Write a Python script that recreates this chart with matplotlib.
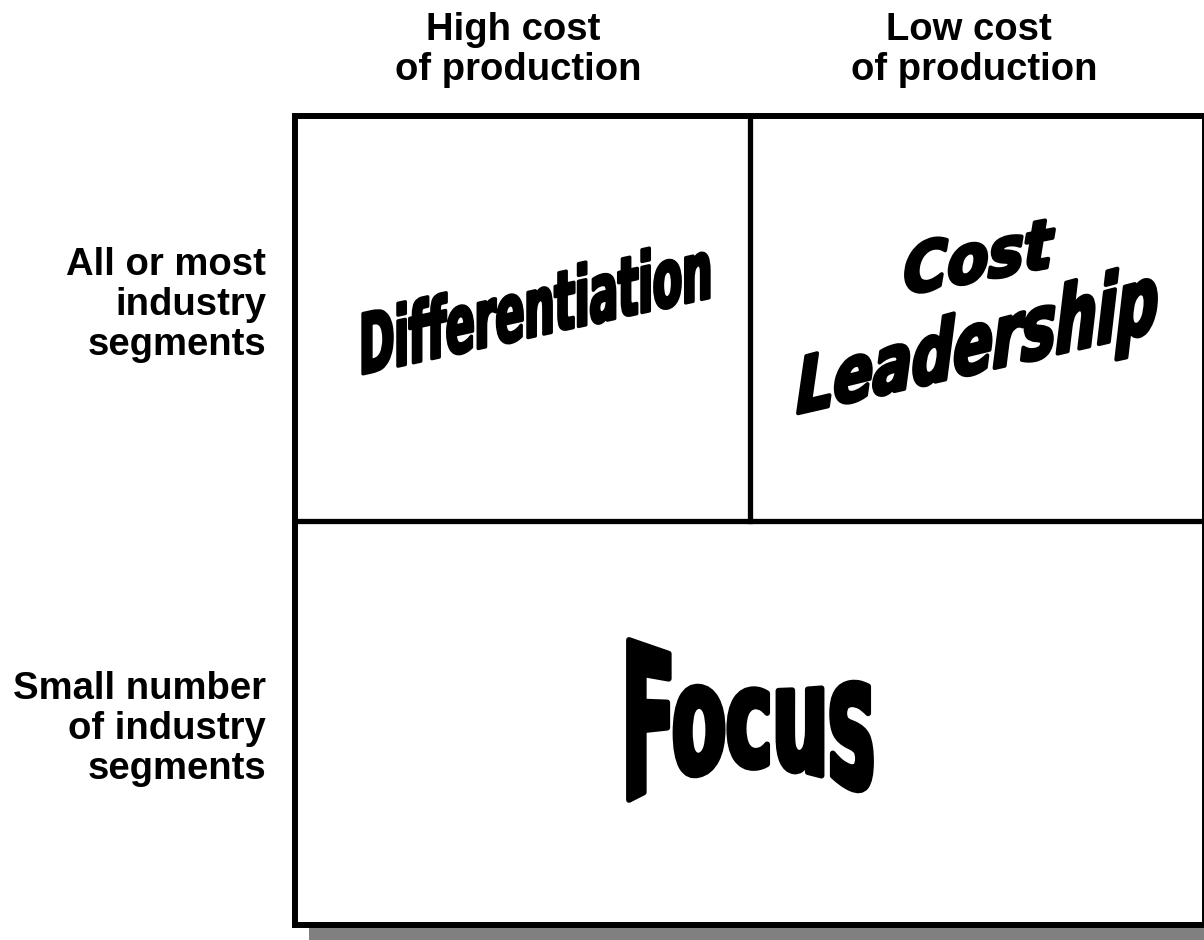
import numpy as np
import matplotlib
matplotlib.use("Agg")
import matplotlib.pyplot as plt
from matplotlib.patches import Rectangle
from matplotlib.patheffects import AbstractPathEffect
from matplotlib.path import Path
from matplotlib.transforms import IdentityTransform

# headings and cell labels of the strategy grid
col_labels = ["High cost \nof production", "Low cost \nof production"]
row_labels = ["All or most\nindustry\nsegments", "Small number\nof industry\nsegments"]
strategies = ["Differentiation", "Cost", "Leadership", "Focus"]

W, H = 1204, 940


class Envelope(AbstractPathEffect):
    """Bend one line of text into a WordArt-like envelope (pixel coords).

    top / bottom are the edge heights at the left, middle and right end,
    lw is an extra outline (points) to make the letters heavier.
    """

    def __init__(self, ax, x0, x1, top, bottom, lw=0.0):
        super().__init__()
        self.ax, self.x0, self.x1 = ax, x0, x1
        self.top, self.bottom, self.lw = top, bottom, lw

    def draw_path(self, renderer, gc, tpath, affine, rgbFace=None):
        v = affine.transform(tpath.vertices)
        codes = tpath.codes
        keep = np.ones(len(v), bool) if codes is None else codes != Path.CLOSEPOLY
        lo, hi = v[keep].min(axis=0), v[keep].max(axis=0)
        u = (v[:, 0] - lo[0]) / (hi[0] - lo[0])
        t = (v[:, 1] - lo[1]) / (hi[1] - lo[1])

        def q(a, b, c):
            return a * (1 - u) * (1 - 2 * u) + b * 4 * u * (1 - u) + c * u * (2 * u - 1)

        x = self.x0 + u * (self.x1 - self.x0)
        y = q(*self.bottom) + t * (q(*self.top) - q(*self.bottom))
        out = self.ax.transData.transform(np.column_stack([x, y]))
        gc.set_linewidth(self.lw)
        gc.set_foreground(rgbFace)
        gc.set_joinstyle("round")
        renderer.draw_path(gc, Path(out, codes), IdentityTransform(), rgbFace)


fig = plt.figure(figsize=(W / 100, H / 100), dpi=100)
ax = fig.add_axes([0, 0, 1, 1])
ax.set_xlim(0, W)
ax.set_ylim(H, 0)
ax.axis("off")

# box with drop shadow
ax.add_patch(Rectangle((309, 130), 1000, 900, fc="#808080", ec="none", zorder=1))
ax.add_patch(Rectangle((295, 115.5), 910, 809.5, fc="white", ec="black", lw=4.3, zorder=2))
ax.plot([750, 750], [115.5, 521], color="black", lw=3.8, zorder=3)
ax.plot([295, 1205], [521, 521], color="black", lw=3.8, zorder=3)

head = dict(fontsize=27.5, weight="bold", family="Liberation Sans", linespacing=1.16)
for x, lab in zip([518, 974], col_labels):
    ax.text(x, 50, lab, ha="center", va="center", multialignment="center", **head)
for y, lab in zip([305, 729], row_labels):
    ax.text(266, y, lab, ha="right", va="center", multialignment="right", **head)

word = dict(ha="center", va="center", color="black", family="DejaVu Sans",
            weight="bold", zorder=4)
ax.text(536, 305, strategies[0], fontsize=27,
        path_effects=[Envelope(ax, 363, 709, (311, 273, 235), (375, 337, 299), lw=2.4)],
        **word)
ax.text(980, 255, strategies[1], fontsize=30, style="italic",
        path_effects=[Envelope(ax, 906, 1054, (244, 230, 216), (295, 281, 267), lw=2.8)],
        **word)
ax.text(977, 350, strategies[2], fontsize=34, style="italic",
        path_effects=[Envelope(ax, 798, 1156, (356, 307, 258), (429, 390, 351), lw=2.8)],
        **word)
ax.text(750, 720, strategies[3], fontsize=60,
        path_effects=[Envelope(ax, 629, 871, (640, 666, 645), (803, 768, 798), lw=4.2)],
        **word)

fig.savefig("out.png", dpi=100)
